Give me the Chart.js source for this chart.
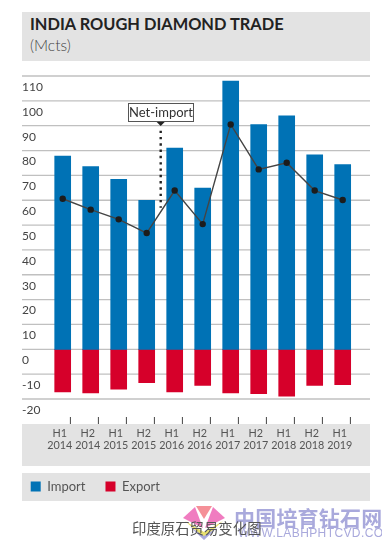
<!DOCTYPE html>
<html>
<head>
<meta charset="utf-8">
<script src="https://cdn.jsdelivr.net/npm/chart.js@4"></script>
<style>
  html, body { margin: 0; padding: 0; background: #fff; }
  #page { position: relative; width: 382px; height: 540px; overflow: hidden; font-family: Lato, sans-serif; }
  #chartBox { position: absolute; left: 0; top: 0; width: 382px; height: 540px; }
  .band { position: absolute; left: 22px; width: 348px; background: #e3e3e3; }
  .txt { position: absolute; white-space: nowrap; }
</style>
</head>
<body>
<div id="page">
  <div class="band" style="top:12px;height:49px"></div>
  <div class="band" style="top:424px;height:42px"></div>
  <div class="band" style="top:473px;height:28px"></div>
  <div class="txt" style="left:30px;top:14px;font-size:16.4px;font-weight:700;color:#222">INDIA ROUGH DIAMOND TRADE</div>
  <div class="txt" style="left:30px;top:36px;font-size:15.5px;font-weight:300;color:#444">(Mcts)</div>
  <div id="chartBox"><canvas id="chart" width="382" height="540"></canvas></div>
  <svg class="txt" style="left:182px;top:506px" width="44" height="34" viewBox="0 0 44 34">
    <polygon points="1,12 13,1 21,22" fill="#f07cc0"/>
    <polygon points="14,0 30,0 22,13" fill="#f59098"/>
    <polygon points="31,1 43,12 23,22" fill="#f07cc0"/>
    <polygon points="3,15 22,32 41,15 22,26" fill="#e8e070"/>
    <polygon points="8,21 22,34 36,21 22,30" fill="#a9a9dc"/>
  </svg>
  <div class="txt" style="left:234px;top:502px;font-size:21px;font-weight:700;letter-spacing:0.2px;color:#a9a9dc;font-family:'Noto Sans CJK SC'">中国培育钻石网</div>
  <div class="txt" style="left:238px;top:526px;font-size:12px;color:#a9a9dc;letter-spacing:0.4px;font-family:'Liberation Sans'">WWW.LABHPHTCVD.COM</div>
  <div class="txt" style="left:132px;top:517px;font-size:14.4px;color:#555;font-family:'Noto Sans CJK SC'">印度原石贸易变化图</div>
</div>
<script>
// Datos
const periodos = [["H1","2014"],["H2","2014"],["H1","2015"],["H2","2015"],["H1","2016"],["H2","2016"],["H1","2017"],["H2","2017"],["H1","2018"],["H2","2018"],["H1","2019"]];
const importacion = [77.8, 73.5, 68.4, 60, 81, 64.9, 108, 90.4, 94, 78.3, 74.3];
const exportacion = [-17.2, -17.6, -16, -13.4, -17.2, -14.5, -17.6, -17.9, -18.9, -14.5, -14.2];
const netImport = [60.6, 56.2, 52.3, 46.8, 63.9, 50.4, 90.5, 72.4, 75.1, 63.9, 60.1];

// Líneas de fondo, marcas del eje x y la nota "Net-import"
const decoracion = {
  id: "decoracion",
  beforeDatasetsDraw(chart) {
    const { ctx, scales } = chart;
    ctx.save();
    ctx.strokeStyle = "#c0c0c0";
    ctx.lineWidth = 1.3;
    scales.y.ticks.forEach((t) => {
      const y = scales.y.getPixelForValue(t.value);
      ctx.beginPath();
      ctx.moveTo(22, y);
      ctx.lineTo(370, y);
      ctx.stroke();
    });
    ctx.strokeStyle = "#444";
    ctx.lineWidth = 1;
    periodos.forEach((p, i) => {
      const x = scales.x.getPixelForValue(i) + 7.7;
      ctx.beginPath();
      ctx.moveTo(x, 417);
      ctx.lineTo(x, 424);
      ctx.stroke();
    });
    ctx.restore();
  },
  afterDatasetsDraw(chart) {
    const { ctx, scales } = chart;
    const x = (scales.x.getPixelForValue(3) + scales.x.getPixelForValue(4)) / 2;
    ctx.save();
    // línea punteada
    ctx.strokeStyle = "#222";
    ctx.lineWidth = 2.4;
    ctx.setLineDash([2.4, 3.9]);
    ctx.beginPath();
    ctx.moveTo(x, scales.y.getPixelForValue(88));
    ctx.lineTo(x, scales.y.getPixelForValue(57));
    ctx.stroke();
    ctx.setLineDash([]);
    // caja
    ctx.fillStyle = "#fff";
    ctx.strokeStyle = "#555";
    ctx.lineWidth = 1;
    ctx.fillRect(128.5, 103.5, 65, 18);
    ctx.strokeRect(128.5, 103.5, 65, 18);
    ctx.fillStyle = "#222";
    ctx.beginPath();
    ctx.moveTo(x - 4, 122);
    ctx.lineTo(x + 4, 122);
    ctx.lineTo(x, 126);
    ctx.fill();
    ctx.font = "13px Lato";
    ctx.textAlign = "center";
    ctx.textBaseline = "middle";
    ctx.fillStyle = "#333";
    ctx.fillText("Net-import", 161, 113);
    ctx.restore();
  },
  // la leyenda va dentro de su banda gris
  beforeDraw(chart) {
    chart.legend.left = 10.7;
    chart.legend.right = 382;
    chart.legend.top = 460;
    chart.legend.bottom = 540;
  },
};

new Chart(document.getElementById("chart"), {
  data: {
    labels: periodos,
    datasets: [
      {
        type: "line",
        label: "Net-import",
        data: netImport,
        borderColor: "#444",
        borderWidth: 1.4,
        pointRadius: 3.2,
        pointBackgroundColor: "#1c1c1c",
        pointBorderWidth: 0,
        tension: 0,
        order: 1,
      },
      { type: "bar", label: "Import", data: importacion, backgroundColor: "#0072b5", barThickness: 16, grouped: false, order: 2 },
      { type: "bar", label: "Export", data: exportacion, backgroundColor: "#d6002a", barThickness: 16, grouped: false, order: 2 },
    ],
  },
  options: {
    responsive: false,
    animation: false,
    layout: { padding: { left: 22, right: 25.3, top: 76, bottom: 31 } },
    scales: {
      x: {
        grid: { display: false, drawTicks: false },
        border: { display: false },
        afterFit: (s) => { s.height = 67; s.paddingLeft = 0; s.paddingRight = 0; },
        ticks: { padding: 28, maxRotation: 0, autoSkip: false, labelOffset: -3, color: "#555", font: { family: "Lato", size: 10.8, lineHeight: 1.15 } },
      },
      y: {
        min: -20,
        max: 110,
        grid: { display: false, drawTicks: false },
        border: { display: false },
        afterFit: (s) => { s.width = 26.7; },
        ticks: { stepSize: 10, crossAlign: "far", labelOffset: 11, padding: 0, color: "#444", font: { family: "Lato", size: 12 } },
      },
    },
    plugins: {
      tooltip: { enabled: false },
      legend: {
        position: "bottom",
        align: "start",
        labels: {
          boxWidth: 10,
          boxHeight: 10,
          padding: 20,
          color: "#555",
          font: { family: "Lato", size: 13 },
          filter: (item) => item.text !== "Net-import",
        },
      },
    },
  },
  plugins: [decoracion],
});
</script>
</body>
</html>
